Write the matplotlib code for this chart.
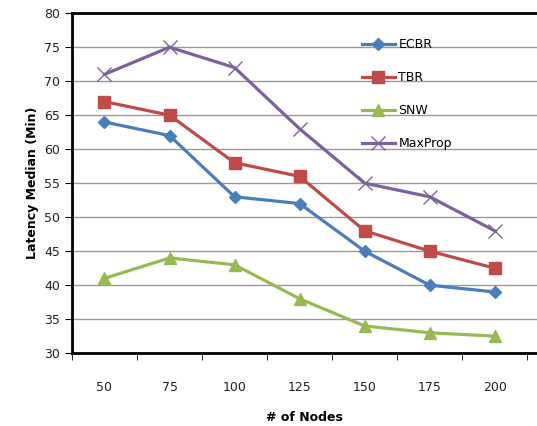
import numpy as np
import matplotlib.pyplot as plt

# data
nodes = ["50", "75", "100", "125", "150", "175", "200"]
ecbr = [64, 62, 53, 52, 45, 40, 39]
tbr = [67, 65, 58, 56, 48, 45, 42.5]
snw = [41, 44, 43, 38, 34, 33, 32.5]
maxprop = [71, 75, 72, 63, 55, 53, 48]

fig = plt.figure(figsize=(5.37, 4.26), dpi=100)
ax = fig.add_axes([0.134, 0.171, 0.866, 0.798])

x = np.arange(len(nodes))
ax.plot(x, ecbr, color="#4A7EBB", lw=2.3, marker="D", ms=6, label="ECBR")
ax.plot(x, tbr, color="#BE4B48", lw=2.3, marker="s", ms=8, label="TBR")
ax.plot(x, snw, color="#98B954", lw=2.3, marker="^", ms=8, label="SNW")
ax.plot(x, maxprop, color="#7D60A0", lw=2.3, marker="x", ms=10, mew=1.0, label="MaxProp")

ax.set_ylim(30, 80)
ax.set_yticks(np.arange(30, 81, 5))
ax.set_xlim(-0.5, 6.65)
ax.set_xticks(x)
ax.set_xticklabels(nodes)
ax.set_xticks(np.arange(-0.5, 7, 1), minor=True)
ax.tick_params(axis="x", which="major", length=0, pad=20, labelsize=9, labelcolor="#222222")
ax.tick_params(axis="x", which="minor", length=5, direction="out")
ax.tick_params(axis="y", length=5, direction="out", labelsize=9, labelcolor="#222222")

ax.yaxis.grid(True, color="#999999", lw=1)
ax.set_axisbelow(True)
for s in ["left", "bottom", "top"]:
    ax.spines[s].set_linewidth(2)
ax.spines["right"].set_visible(False)

ax.set_xlabel("# of Nodes", fontweight="bold", fontsize=9, labelpad=12)
ax.set_ylabel("Latency Median (Min)", fontweight="bold", fontsize=9)

ax.legend(loc="upper left", bbox_to_anchor=(0.6, 0.96), frameon=False,
          fontsize=9, labelspacing=1.6, handlelength=2.6, handletextpad=0.3)

fig.savefig("out.png")
